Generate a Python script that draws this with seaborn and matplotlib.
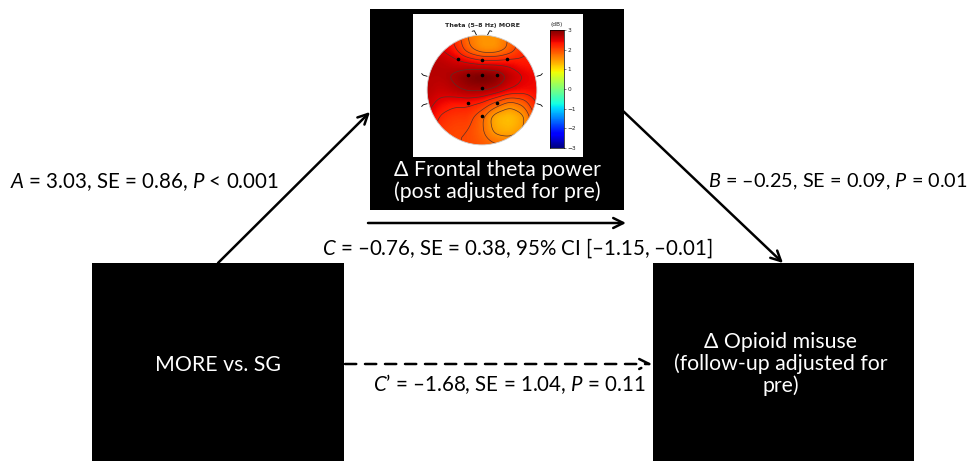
import numpy as np
import matplotlib
matplotlib.use("Agg")
import matplotlib.pyplot as plt
import seaborn as sns
from matplotlib.patches import Rectangle, Circle

sns.set_theme(style="white")
FONT = "Lato"
plt.rcParams["font.family"] = [FONT, "DejaVu Sans"]
plt.rcParams["mathtext.fontset"] = "custom"
plt.rcParams["mathtext.rm"] = FONT
plt.rcParams["mathtext.it"] = FONT + ":italic"

# ---- data ----
node_labels = ["MORE vs. SG", "\u0394 Frontal theta power\n(post adjusted for pre)",
               "\u0394 Opioid misuse\n(follow-up adjusted for\npre)"]
path_a = "$\\mathit{A}$ = 3.03, SE = 0.86, $\\mathit{P}$ < 0.001"
path_b = "$\\mathit{B}$ = \u20130.25, SE = 0.09, $\\mathit{P}$ = 0.01"
path_c = "$\\mathit{C}$ = \u20130.76, SE = 0.38, 95% CI [\u20131.15, \u20130.01]"
path_cp = "$\\mathit{C\u2019}$ = \u20131.68, SE = 1.04, $\\mathit{P}$ = 0.11"
topo_title = "Theta (5\u20138 Hz) MORE"
cbar_ticks = [3, 2, 1, 0, -1, -2, -3]
# topomap values (dB) read on a 9x9 grid over the head (rows top->bottom, cols left->right)
topo_grid = np.array([
    [2.5, 2.4, 2.2, 1.7, 1.5, 1.5, 1.8, 2.2, 2.3],
    [2.6, 2.5, 2.3, 1.8, 1.5, 1.5, 1.8, 2.2, 2.3],
    [2.7, 2.7, 2.6, 2.5, 2.4, 2.4, 2.4, 2.3, 2.3],
    [2.7, 2.7, 2.8, 3.0, 3.1, 3.0, 2.7, 2.5, 2.4],
    [2.7, 2.6, 2.7, 2.8, 2.8, 2.7, 2.5, 2.4, 2.4],
    [2.6, 2.4, 2.3, 2.3, 2.2, 1.9, 1.6, 1.8, 2.3],
    [2.5, 2.2, 2.1, 2.1, 1.8, 1.3, 1.2, 1.4, 2.1],
    [2.4, 2.1, 2.0, 2.0, 1.8, 1.4, 1.3, 1.5, 2.1],
    [2.3, 2.1, 2.0, 2.0, 1.9, 1.8, 1.8, 2.0, 2.1],
])
elec_x = [-0.44, 0.0, 0.45, -0.25, 0.0, 0.27, 0.0, -0.25, 0.27, 0.0]
elec_y = [-0.56, -0.55, -0.56, -0.28, -0.28, -0.28, -0.03, 0.24, 0.23, 0.48]

W, H = 971, 461
fig = plt.figure(figsize=(W / 100, H / 100), dpi=100)
ax = fig.add_axes([0, 0, 1, 1])
ax.set_xlim(0, W)
ax.set_ylim(H, 0)
ax.axis("off")

def box(x0, y0, x1, y1):
    ax.add_patch(Rectangle((x0, y0), x1 - x0, y1 - y0, facecolor="black", edgecolor="none", zorder=1))

box(370, 9, 624, 210)
box(92, 263, 344, 462)
box(653, 263, 914, 462)

FS = 15.3
ax.text(497, 181, node_labels[1], color="white", ha="center", va="center", fontsize=FS,
        linespacing=1.05, zorder=3)
ax.text(218, 365, node_labels[0], color="white", ha="center", va="center", fontsize=FS, zorder=3)
ax.text(781, 364, node_labels[2], color="white", ha="center", va="center", fontsize=FS,
        linespacing=1.1, zorder=3)

arrow_kw = dict(arrowstyle="->,head_length=0.6,head_width=0.3", color="black", lw=1.8,
                shrinkA=0, shrinkB=0)
ax.annotate("", xy=(370, 112), xytext=(218, 263), arrowprops=arrow_kw, zorder=2)
ax.annotate("", xy=(783, 263), xytext=(622, 110), arrowprops=arrow_kw, zorder=2)
ax.annotate("", xy=(626, 223), xytext=(368, 223), arrowprops=arrow_kw, zorder=2)
ax.annotate("", xy=(652, 364), xytext=(345, 364),
            arrowprops=dict(arrow_kw, linestyle=(0, (4.5, 3.5))), zorder=2)

LS = 14.8
ax.text(10, 182, path_a, ha="left", va="center", fontsize=LS, color="black")
ax.text(968, 182, path_b, ha="right", va="center", fontsize=14.3, color="black")
ax.text(517, 248, path_c, ha="center", va="center", fontsize=LS, color="black")
ax.text(509, 384, path_cp, ha="center", va="center", fontsize=LS, color="black")

def fax(x0, y0, x1, y1):
    return fig.add_axes([x0 / W, 1 - y1 / H, (x1 - x0) / W, (y1 - y0) / H])

# white panel
pan = fax(413, 14, 583, 157)
pan.set_facecolor("white")
pan.set_xticks([]); pan.set_yticks([])
for s in pan.spines.values():
    s.set_visible(False)
pan.text(0.41, 0.92, topo_title, transform=pan.transAxes, ha="center", va="center",
         fontsize=4.6, fontweight="bold", family="DejaVu Sans")
pan.text(0.845, 0.925, "(dB)", transform=pan.transAxes, ha="center", va="center",
         fontsize=4.2, family="DejaVu Sans")

# smooth rendering of the grid (bilinear upsample + light blur)
def upsample(grid, n=121):
    g = np.linspace(0, 1, grid.shape[0])
    f = np.linspace(0, 1, n)
    rows = np.array([np.interp(f, g, r) for r in grid])
    full = np.array([np.interp(f, g, c) for c in rows.T]).T
    k = np.exp(-0.5 * (np.arange(-8, 9) / 4.0) ** 2)
    k /= k.sum()
    pad = np.pad(full, 8, mode="edge")
    sm = np.apply_along_axis(lambda v: np.convolve(v, k, mode="valid"), 1, pad)
    sm = np.apply_along_axis(lambda v: np.convolve(v, k, mode="valid"), 0, sm)
    return f * 2 - 1, sm

fx, field = upsample(topo_grid)

# head
hx = fax(420, 28, 544, 152)
hx.set_xlim(-1.13, 1.13)
hx.set_ylim(1.13, -1.13)
hx.axis("off")
im = hx.imshow(field, cmap="jet", vmin=-3, vmax=3, extent=(-1, 1, 1, -1),
               interpolation="bilinear", zorder=1)
clip = Circle((0, 0), 1, transform=hx.transData)
im.set_clip_path(clip)
cs = hx.contour(fx, fx, field, levels=np.arange(1.25, 3.01, 0.25), colors="#5a3028",
                linewidths=0.5, zorder=2)
cs.set_clip_path(clip)
hx.add_patch(Circle((0, 0), 1, fill=False, edgecolor="#cccccc", lw=0.6, zorder=3))
hx.scatter(elec_x, elec_y, s=2.5, color="black", zorder=4)
for sx in (-1, 1):
    hx.plot([sx * 1.0, sx * 1.07, sx * 1.1], [-0.25, -0.27, -0.3], color="black", lw=0.6)
    hx.plot([sx * 1.0, sx * 1.07, sx * 1.1], [0.25, 0.27, 0.3], color="black", lw=0.6)
hx.plot([-0.18, -0.14, -0.1], [-1.07, -1.08, -1.0], color="black", lw=0.6)
hx.plot([0.18, 0.14, 0.1], [-1.07, -1.08, -1.0], color="black", lw=0.6)

# colorbar via seaborn heatmap
cb = fax(550, 30, 564, 148)
grad = np.linspace(3, -3, 256).reshape(-1, 1)
sns.heatmap(grad, ax=cb, cmap="jet", vmin=-3, vmax=3, cbar=False, xticklabels=False,
            yticklabels=False)
for s in cb.spines.values():
    s.set_visible(True); s.set_color("black"); s.set_linewidth(0.5)
cb.yaxis.tick_right()
cb.set_yticks([(3 - t) / 6 * 256 for t in cbar_ticks])
cb.set_yticklabels([("\u2212" + str(-t)) if t < 0 else str(t) for t in cbar_ticks],
                   fontsize=4.2, family="DejaVu Sans")
cb.tick_params(axis="y", length=1.5, width=0.4, pad=1, right=True, left=False)

fig.savefig("out.png", dpi=100, facecolor="white")
